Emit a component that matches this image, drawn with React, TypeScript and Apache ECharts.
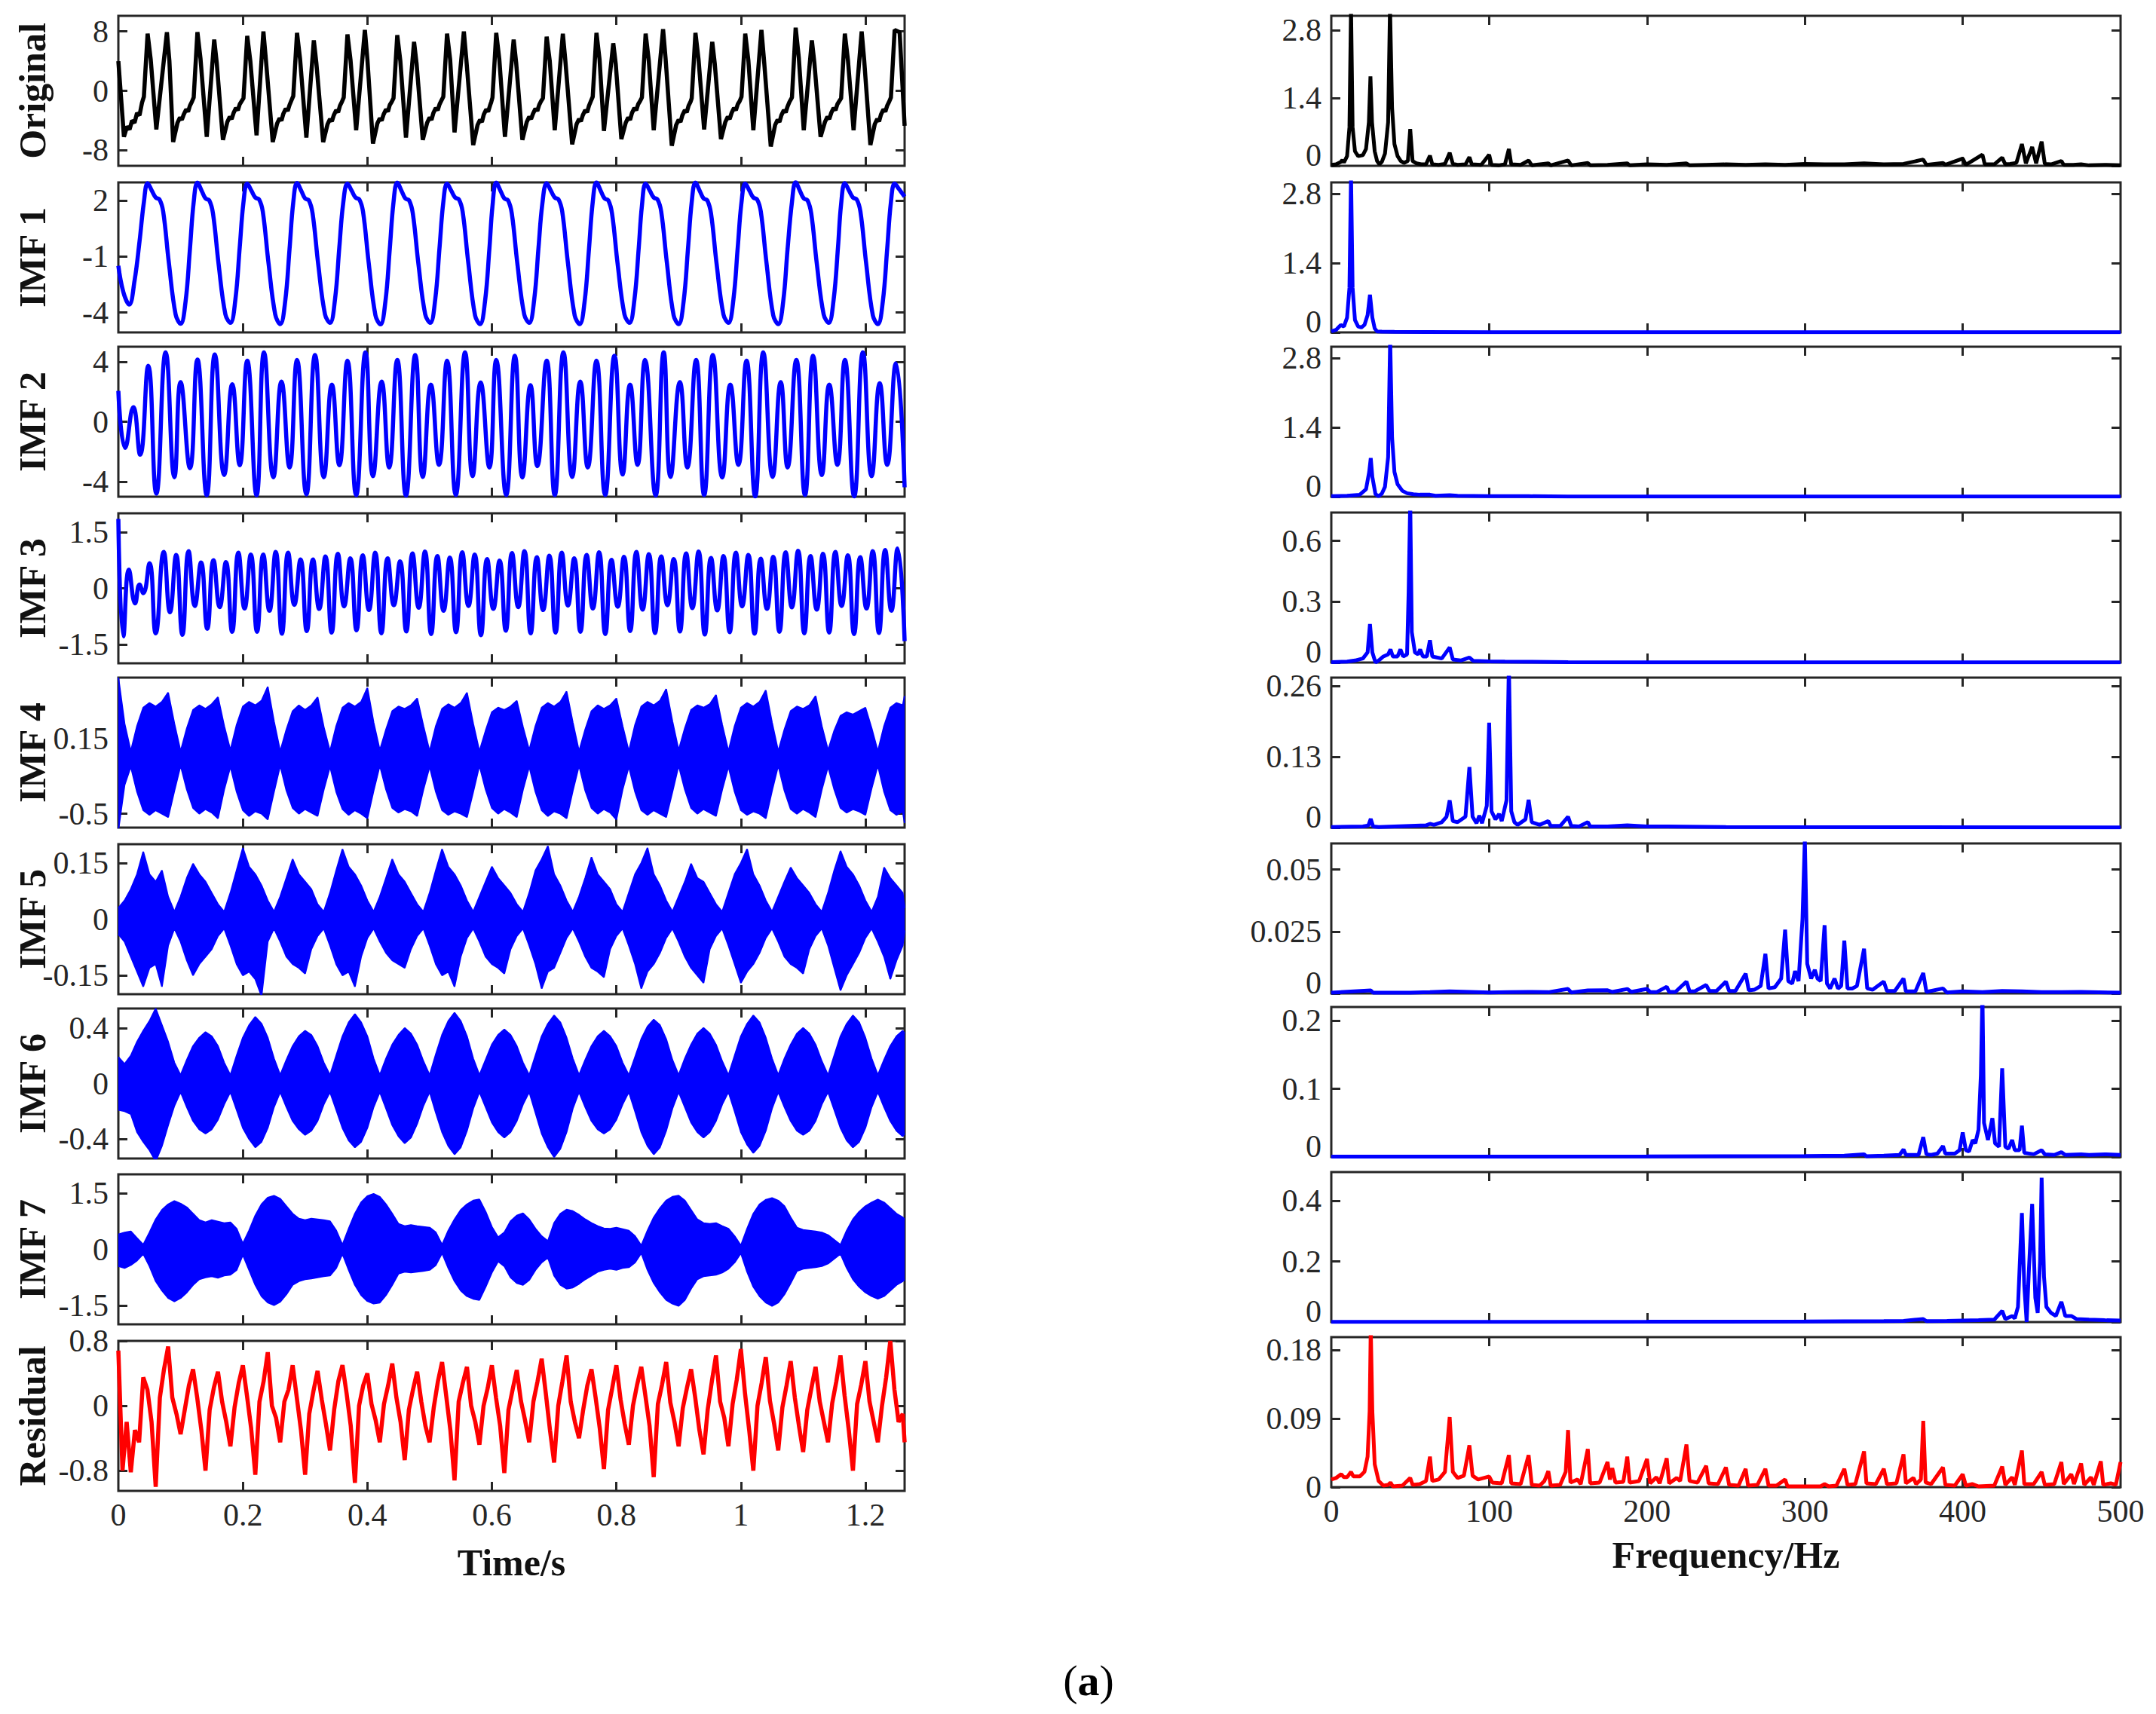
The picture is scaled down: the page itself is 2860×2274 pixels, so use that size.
import React, { useEffect, useRef } from "react";
import * as echarts from "echarts";

// ---------------- axis extents & tick values ----------------
const TIME_MAX = 1.263;
const FREQ_MAX = 500;
const rowNames = ["Original", "IMF 1", "IMF 2", "IMF 3", "IMF 4", "IMF 5", "IMF 6", "IMF 7", "Residual"];
const rowColors = ["#000000", "#0000ff", "#0000ff", "#0000ff", "#0000ff", "#0000ff", "#0000ff", "#0000ff", "#ff0000"];
const timeTicks = [0.2, 0.4, 0.6, 0.8, 1, 1.2];
const timeLabels = [0, 0.2, 0.4, 0.6, 0.8, 1, 1.2];
const freqTicks = [100, 200, 300, 400];
const freqLabels = [0, 100, 200, 300, 400, 500];
const leftRanges = [[-10.1, 10.1], [-5.06, 2.96], [-5, 5], [-2, 2], [-0.62, 0.68], [-0.2, 0.2], [-0.54, 0.54], [-2, 2], [-1.05, 0.8]];
const leftTicks = [[-8, 0, 8], [-4, -1, 2], [-4, 0, 4], [-1.5, 0, 1.5], [-0.5, 0.15], [-0.15, 0, 0.15], [-0.4, 0, 0.4], [-1.5, 0, 1.5], [-0.8, 0, 0.8]];
const rightMax = [3.1, 3.03, 3.03, 0.74, 0.275, 0.0605, 0.22, 0.495, 0.197];
const rightTicks = [[0, 1.4, 2.8], [0, 1.4, 2.8], [0, 1.4, 2.8], [0, 0.3, 0.6], [0, 0.13, 0.26], [0, 0.025, 0.05], [0, 0.1, 0.2], [0, 0.2, 0.4], [0, 0.09, 0.18]];

// ---------------- time-domain signals ----------------
const original = [
  [0, 4.0], [0.009, -6.2], [0.014, -4.8], [0.018, -5.2], [0.022, -4.0], [0.026, -4.3], [0.03, -3.0], [0.034, -3.3], [0.038, -1.6],
  [0.041, -0.8], [0.047, 7.7], [0.052, 4.2], [0.061, -5.2], [0.078, 7.9], [0.082, 4.0], [0.088, -6.9],
  [0.095, -4.3], [0.099, -3.6], [0.102, -3.9], [0.105, -3.2], [0.109, -2.5], [0.112, -2.8], [0.115, -2.0], [0.118, -1.5],
  [0.121, -0.9], [0.127, 7.9], [0.132, 4.3], [0.142, -6.2], [0.154, 6.9], [0.158, 3.8], [0.168, -6.6],
  [0.175, -4.2], [0.179, -3.5], [0.182, -3.8], [0.185, -3.0], [0.189, -2.3], [0.192, -2.6], [0.195, -1.8], [0.198, -1.4],
  [0.201, -1.0], [0.207, 7.4], [0.212, 4.0], [0.222, -6.0], [0.233, 8.0], [0.237, 4.2], [0.248, -6.9],
  [0.255, -4.4], [0.259, -3.7], [0.262, -4.0], [0.265, -3.1], [0.269, -2.4], [0.272, -2.7], [0.275, -1.9], [0.278, -1.3],
  [0.281, -0.7], [0.287, 7.8], [0.292, 4.2], [0.302, -6.3], [0.314, 6.8], [0.318, 3.8], [0.329, -6.9],
  [0.336, -4.5], [0.34, -3.8], [0.343, -4.1], [0.346, -3.3], [0.35, -2.6], [0.353, -2.9], [0.356, -2.0], [0.359, -1.5],
  [0.362, -0.9], [0.368, 7.6], [0.373, 4.1], [0.382, -5.3], [0.396, 8.2], [0.4, 4.3], [0.409, -7.1],
  [0.416, -4.4], [0.42, -3.7], [0.423, -4.0], [0.426, -3.2], [0.43, -2.5], [0.433, -2.8], [0.436, -1.9], [0.439, -1.5],
  [0.442, -1.0], [0.448, 7.5], [0.453, 4.0], [0.462, -6.3], [0.475, 6.6], [0.479, 3.7], [0.489, -6.6],
  [0.496, -4.3], [0.5, -3.6], [0.503, -3.9], [0.506, -3.0], [0.51, -2.3], [0.513, -2.6], [0.516, -1.8], [0.519, -1.3],
  [0.522, -0.8], [0.528, 7.7], [0.533, 4.2], [0.54, -5.6], [0.555, 8.0], [0.559, 4.2], [0.57, -7.3],
  [0.577, -4.6], [0.581, -3.9], [0.584, -4.2], [0.587, -3.2], [0.591, -2.5], [0.594, -2.8], [0.597, -2.0], [0.599, -1.5],
  [0.601, -0.9], [0.607, 7.8], [0.612, 4.2], [0.621, -6.2], [0.635, 6.9], [0.639, 3.8], [0.649, -6.6],
  [0.656, -4.2], [0.66, -3.5], [0.663, -3.8], [0.666, -3.1], [0.67, -2.4], [0.673, -2.7], [0.676, -1.9], [0.679, -1.4],
  [0.682, -1.0], [0.688, 7.3], [0.693, 4.0], [0.701, -5.3], [0.714, 7.7], [0.718, 4.1], [0.729, -7.2],
  [0.736, -4.5], [0.74, -3.8], [0.743, -4.1], [0.746, -3.3], [0.75, -2.6], [0.753, -2.9], [0.756, -2.0], [0.759, -1.4],
  [0.762, -0.8], [0.768, 7.8], [0.773, 4.2], [0.78, -5.4], [0.795, 6.4], [0.799, 3.6], [0.808, -6.5],
  [0.815, -4.3], [0.819, -3.6], [0.822, -3.9], [0.825, -3.0], [0.829, -2.3], [0.832, -2.6], [0.835, -1.8], [0.838, -1.4],
  [0.841, -0.9], [0.847, 7.7], [0.852, 4.1], [0.86, -5.3], [0.875, 8.3], [0.879, 4.4], [0.889, -7.4],
  [0.896, -4.6], [0.9, -3.9], [0.903, -4.2], [0.906, -3.3], [0.91, -2.6], [0.913, -2.9], [0.916, -2.0], [0.919, -1.5],
  [0.921, -1.0], [0.927, 7.8], [0.932, 4.2], [0.941, -5.2], [0.954, 6.6], [0.958, 3.7], [0.968, -6.5],
  [0.975, -4.2], [0.979, -3.5], [0.982, -3.8], [0.985, -3.0], [0.989, -2.3], [0.992, -2.6], [0.995, -1.8], [0.998, -1.4],
  [1.001, -0.8], [1.007, 7.7], [1.012, 4.1], [1.02, -5.3], [1.033, 8.2], [1.037, 4.3], [1.048, -7.5],
  [1.055, -4.6], [1.059, -3.9], [1.062, -4.2], [1.065, -3.3], [1.069, -2.6], [1.072, -2.9], [1.075, -2.1], [1.078, -1.5],
  [1.082, -0.9], [1.088, 8.5], [1.093, 4.5], [1.101, -5.3], [1.114, 6.8], [1.118, 3.8], [1.128, -6.2],
  [1.135, -4.2], [1.139, -3.5], [1.142, -3.8], [1.145, -3.0], [1.149, -2.3], [1.152, -2.6], [1.155, -1.8], [1.158, -1.4],
  [1.161, -1.0], [1.167, 7.7], [1.172, 4.1], [1.181, -5.3], [1.194, 8.0], [1.198, 4.2], [1.208, -7.3],
  [1.215, -4.5], [1.219, -3.8], [1.222, -4.1], [1.225, -3.2], [1.229, -2.5], [1.232, -2.8], [1.235, -2.0], [1.238, -1.5],
  [1.241, -0.9], [1.247, 8.2], [1.255, 7.9], [1.263, -4.7],
];

const imf1 = [
  [0, -1.5], [0.008, -2.9], [0.0175, -3.57], [0.026, -2.3], [0.034, -0.2], [0.041, 1.9],
  [0.047, 2.92], [0.054, 2.5], [0.06, 2.15], [0.066, 2.05], [0.072, 1.4], [0.081, -1.3], [0.092, -4.1], [0.1, -4.6], [0.108, -3.4], [0.115, -0.6], [0.121, 1.9],
  [0.127, 2.95], [0.134, 2.5], [0.14, 2.1], [0.146, 2.0], [0.152, 1.3], [0.161, -1.4], [0.172, -4.1], [0.18, -4.55], [0.188, -3.3], [0.195, -0.5], [0.201, 1.9],
  [0.207, 2.9], [0.214, 2.5], [0.22, 2.15], [0.226, 2.05], [0.232, 1.4], [0.241, -1.3], [0.252, -4.1], [0.26, -4.62], [0.268, -3.4], [0.275, -0.6], [0.281, 1.9],
  [0.287, 2.93], [0.294, 2.5], [0.3, 2.1], [0.306, 2.0], [0.312, 1.3], [0.321, -1.4], [0.332, -4.1], [0.34, -4.55], [0.348, -3.3], [0.355, -0.5], [0.361, 1.8],
  [0.368, 2.9], [0.375, 2.5], [0.381, 2.15], [0.387, 2.05], [0.393, 1.4], [0.402, -1.3], [0.413, -4.15], [0.421, -4.63], [0.429, -3.4], [0.436, -0.6], [0.442, 1.9],
  [0.448, 2.95], [0.455, 2.5], [0.461, 2.1], [0.467, 2.0], [0.473, 1.3], [0.482, -1.4], [0.493, -4.1], [0.501, -4.55], [0.509, -3.3], [0.516, -0.5], [0.522, 1.9],
  [0.528, 2.9], [0.535, 2.5], [0.541, 2.15], [0.547, 2.05], [0.553, 1.4], [0.562, -1.3], [0.573, -4.15], [0.581, -4.62], [0.589, -3.4], [0.596, -0.6], [0.601, 1.7],
  [0.607, 2.95], [0.614, 2.5], [0.62, 2.1], [0.626, 2.0], [0.632, 1.3], [0.641, -1.4], [0.652, -4.1], [0.66, -4.55], [0.668, -3.3], [0.675, -0.5], [0.681, 1.8],
  [0.688, 2.92], [0.695, 2.5], [0.701, 2.15], [0.707, 2.05], [0.713, 1.4], [0.722, -1.3], [0.733, -4.15], [0.741, -4.62], [0.749, -3.4], [0.756, -0.6], [0.762, 1.9],
  [0.768, 2.96], [0.775, 2.5], [0.781, 2.1], [0.787, 2.0], [0.793, 1.3], [0.802, -1.4], [0.813, -4.1], [0.821, -4.55], [0.829, -3.3], [0.836, -0.5], [0.841, 1.7],
  [0.847, 2.9], [0.854, 2.5], [0.86, 2.15], [0.866, 2.05], [0.872, 1.4], [0.881, -1.3], [0.892, -4.15], [0.9, -4.62], [0.908, -3.4], [0.915, -0.6], [0.921, 1.9],
  [0.927, 2.95], [0.934, 2.5], [0.94, 2.1], [0.946, 2.0], [0.952, 1.3], [0.961, -1.4], [0.972, -4.1], [0.98, -4.55], [0.988, -3.3], [0.995, -0.5], [1.001, 1.9],
  [1.007, 2.9], [1.014, 2.5], [1.02, 2.15], [1.026, 2.05], [1.032, 1.4], [1.041, -1.3], [1.052, -4.15], [1.06, -4.62], [1.068, -3.4], [1.075, -0.6], [1.082, 1.9],
  [1.088, 2.97], [1.095, 2.5], [1.101, 2.1], [1.107, 2.0], [1.113, 1.3], [1.122, -1.4], [1.133, -4.1], [1.141, -4.55], [1.149, -3.3], [1.156, -0.5], [1.161, 1.8],
  [1.167, 2.92], [1.174, 2.5], [1.18, 2.15], [1.186, 2.05], [1.192, 1.4], [1.201, -1.3], [1.212, -4.15], [1.22, -4.62], [1.228, -3.4], [1.235, -0.6], [1.241, 1.9],
  [1.247, 2.9], [1.254, 2.6], [1.263, 2.2],
];

const imf2 = [
  [0, 2.06], [0.011, -1.74], [0.024, 0.97], [0.035, -2.2], [0.048, 3.73], [0.061, -4.8], [0.076, 4.62], [0.09, -3.7], [0.1, 2.64], [0.115, -3.1],
  [0.127, 4.15], [0.142, -4.9], [0.155, 4.49], [0.17, -3.55], [0.183, 2.5], [0.195, -2.9], [0.207, 4.07], [0.222, -4.9], [0.234, 4.62], [0.249, -3.7],
  [0.262, 2.68], [0.275, -3.05], [0.287, 4.12], [0.302, -4.85], [0.316, 4.45], [0.33, -3.7], [0.343, 2.48], [0.355, -2.9], [0.368, 4.07], [0.382, -4.9],
  [0.397, 4.62], [0.409, -3.63], [0.423, 2.68], [0.435, -3.05], [0.448, 4.12], [0.462, -4.92], [0.477, 4.45], [0.489, -3.68], [0.502, 2.48], [0.515, -2.88],
  [0.528, 4.07], [0.542, -4.89], [0.557, 4.62], [0.569, -3.63], [0.582, 2.61], [0.596, -3.05], [0.607, 4.12], [0.623, -4.89], [0.637, 4.4], [0.649, -3.72],
  [0.662, 2.44], [0.673, -2.96], [0.688, 4.07], [0.701, -4.89], [0.715, 4.62], [0.729, -3.68], [0.742, 2.68], [0.754, -3.05], [0.768, 4.07], [0.782, -4.89],
  [0.797, 4.4], [0.81, -3.52], [0.822, 2.48], [0.834, -2.88], [0.846, 4.12], [0.863, -4.92], [0.876, 4.62], [0.887, -3.68], [0.902, 2.64], [0.914, -3.05],
  [0.928, 4.12], [0.941, -4.89], [0.955, 4.45], [0.97, -3.72], [0.983, 2.48], [0.996, -2.88], [1.009, 4.07], [1.023, -4.97], [1.036, 4.62], [1.051, -3.68],
  [1.064, 2.64], [1.075, -3.05], [1.089, 4.12], [1.103, -4.89], [1.116, 4.4], [1.13, -3.55], [1.142, 2.48], [1.155, -2.88], [1.167, 4.12], [1.182, -4.97],
  [1.196, 4.62], [1.21, -3.63], [1.223, 2.56], [1.235, -2.88], [1.249, 3.9], [1.263, -4.37],
];

const imf3Start = [[0, 1.85], [0.008, -1.28], [0.017, 0.5], [0.027, -0.4], [0.034, 0.1], [0.04, -0.13], [0.05, 0.67], [0.06, -1.2]];
const IMF3_T0 = 0.0729;
const IMF3_DT = 0.00999;
const imf3Extrema = [
  0.97, -0.64, 0.89, -1.24, 0.99, -0.47, 0.69, -1.08, 0.75, -0.5, 0.7, -1.16, 0.95, -0.54, 0.9, -1.16,
  0.9, -0.6, 0.97, -1.21, 0.95, -0.44, 0.77, -1.14, 0.77, -0.55, 0.85, -1.18, 0.92, -0.48, 0.8, -1.12,
  0.88, -0.58, 0.95, -1.2, 0.8, -0.45, 0.72, -1.15, 0.93, -0.52, 0.98, -1.22, 0.86, -0.6, 0.82, -1.17,
  0.96, -0.47, 0.9, -1.25, 0.78, -0.55, 0.74, -1.13, 0.94, -0.5, 0.99, -1.2, 0.83, -0.58, 0.87, -1.18,
  0.95, -0.46, 0.8, -1.16, 0.89, -0.54, 0.96, -1.22, 0.76, -0.49, 0.84, -1.14, 0.97, -0.57, 0.91, -1.19,
  0.85, -0.45, 0.78, -1.15, 0.93, -0.53, 0.98, -1.23, 0.81, -0.59, 0.86, -1.17, 0.95, -0.48, 0.89, -1.21,
  0.79, -0.55, 0.84, -1.16, 0.96, -0.51, 1.0, -1.2, 0.86, -0.57, 0.92, -1.18, 0.97, -0.47, 0.88, -1.22,
  0.83, -0.54, 0.99, -1.19, 1.02, -0.6, 1.06,
];
const imf3End = [[1.263, -1.41]];

// envelopes of the dense IMFs, one value every 0.01 s (last value at the record end)
const ENV_DT = 0.01;
const imf4Upper = [
  0.68, 0.28,
  0.04, 0.26, 0.42, 0.46, 0.43, 0.47, 0.55, 0.28, 0.04, 0.24, 0.4, 0.44, 0.41, 0.45, 0.51, 0.26,
  0.05, 0.27, 0.43, 0.47, 0.44, 0.48, 0.6, 0.3, 0.04, 0.23, 0.39, 0.44, 0.4, 0.44, 0.51, 0.25,
  0.04, 0.26, 0.42, 0.46, 0.43, 0.47, 0.59, 0.29, 0.05, 0.23, 0.39, 0.43, 0.41, 0.44, 0.5, 0.26,
  0.04, 0.26, 0.41, 0.45, 0.42, 0.46, 0.55, 0.28, 0.04, 0.22, 0.38, 0.42, 0.4, 0.43, 0.48, 0.25,
  0.05, 0.26, 0.42, 0.46, 0.43, 0.47, 0.56, 0.29, 0.04, 0.23, 0.39, 0.44, 0.41, 0.44, 0.5, 0.26,
  0.04, 0.27, 0.43, 0.47, 0.44, 0.48, 0.58, 0.3, 0.05, 0.24, 0.4, 0.44, 0.42, 0.45, 0.53, 0.27,
  0.04, 0.26, 0.42, 0.46, 0.43, 0.47, 0.57, 0.29, 0.04, 0.23, 0.39, 0.43, 0.41, 0.44, 0.52, 0.26,
  0.05, 0.22, 0.35, 0.38, 0.36, 0.39, 0.42, 0.24, 0.04, 0.26, 0.42, 0.46, 0.44, 0.52,
];
const imf4Lower = [
  -0.64, -0.25,
  -0.09, -0.31, -0.47, -0.51, -0.47, -0.5, -0.53, -0.3, -0.08, -0.29, -0.45, -0.5, -0.46, -0.49, -0.54, -0.29,
  -0.09, -0.31, -0.47, -0.52, -0.48, -0.5, -0.55, -0.31, -0.08, -0.3, -0.45, -0.5, -0.46, -0.49, -0.52, -0.29,
  -0.09, -0.31, -0.46, -0.51, -0.47, -0.5, -0.54, -0.3, -0.08, -0.29, -0.45, -0.49, -0.46, -0.48, -0.52, -0.29,
  -0.09, -0.31, -0.47, -0.51, -0.48, -0.5, -0.53, -0.31, -0.08, -0.29, -0.45, -0.5, -0.46, -0.49, -0.53, -0.29,
  -0.09, -0.31, -0.47, -0.52, -0.48, -0.5, -0.54, -0.3, -0.08, -0.3, -0.45, -0.5, -0.46, -0.49, -0.55, -0.29,
  -0.09, -0.31, -0.47, -0.51, -0.47, -0.5, -0.53, -0.31, -0.08, -0.29, -0.45, -0.5, -0.46, -0.49, -0.52, -0.29,
  -0.09, -0.31, -0.47, -0.51, -0.48, -0.5, -0.54, -0.3, -0.08, -0.3, -0.46, -0.5, -0.46, -0.49, -0.53, -0.29,
  -0.09, -0.29, -0.45, -0.49, -0.46, -0.48, -0.51, -0.28, -0.08, -0.31, -0.47, -0.51, -0.48, -0.58,
];
const imf5Upper = [
  0.03, 0.05, 0.08, 0.12, 0.18, 0.12, 0.1, 0.13, 0.06,
  0.02, 0.06, 0.11, 0.148, 0.12, 0.1, 0.07, 0.04, 0.02, 0.07, 0.13, 0.19, 0.14, 0.12, 0.09, 0.05,
  0.02, 0.06, 0.11, 0.16, 0.12, 0.1, 0.08, 0.04, 0.02, 0.07, 0.13, 0.187, 0.14, 0.12, 0.09, 0.05,
  0.02, 0.06, 0.11, 0.16, 0.12, 0.1, 0.07, 0.04, 0.02, 0.07, 0.13, 0.187, 0.14, 0.12, 0.09, 0.05,
  0.02, 0.06, 0.1, 0.14, 0.11, 0.09, 0.07, 0.04, 0.02, 0.07, 0.13, 0.16, 0.195, 0.12, 0.09, 0.05,
  0.02, 0.06, 0.11, 0.165, 0.12, 0.1, 0.08, 0.04, 0.02, 0.07, 0.12, 0.15, 0.19, 0.12, 0.09, 0.05,
  0.02, 0.06, 0.1, 0.148, 0.11, 0.1, 0.07, 0.04, 0.02, 0.07, 0.12, 0.15, 0.187, 0.12, 0.09, 0.05,
  0.02, 0.06, 0.1, 0.138, 0.11, 0.09, 0.07, 0.04, 0.02, 0.07, 0.13, 0.182, 0.14, 0.12, 0.09, 0.05,
  0.02, 0.06, 0.138, 0.11, 0.09, 0.07, 0.03,
];
const imf5Lower = [
  -0.04, -0.06, -0.1, -0.14, -0.18, -0.13, -0.12, -0.18, -0.07,
  -0.025, -0.06, -0.11, -0.15, -0.12, -0.1, -0.08, -0.045, -0.025, -0.07, -0.12, -0.15, -0.14, -0.16, -0.205, -0.06,
  -0.025, -0.06, -0.1, -0.12, -0.13, -0.145, -0.08, -0.045, -0.025, -0.07, -0.12, -0.15, -0.14, -0.18, -0.1, -0.05,
  -0.025, -0.06, -0.09, -0.11, -0.12, -0.13, -0.08, -0.045, -0.025, -0.07, -0.12, -0.15, -0.14, -0.18, -0.1, -0.05,
  -0.025, -0.06, -0.1, -0.12, -0.13, -0.145, -0.08, -0.045, -0.025, -0.07, -0.12, -0.185, -0.14, -0.13, -0.09, -0.05,
  -0.025, -0.06, -0.1, -0.13, -0.14, -0.155, -0.08, -0.045, -0.025, -0.07, -0.12, -0.185, -0.14, -0.12, -0.09, -0.05,
  -0.025, -0.06, -0.1, -0.13, -0.15, -0.17, -0.08, -0.045, -0.025, -0.07, -0.12, -0.17, -0.14, -0.12, -0.09, -0.05,
  -0.025, -0.06, -0.1, -0.12, -0.13, -0.145, -0.08, -0.045, -0.025, -0.07, -0.13, -0.19, -0.15, -0.12, -0.09, -0.05,
  -0.025, -0.06, -0.1, -0.16, -0.11, -0.07, -0.03,
];
const imf6Upper = [
  0.19, 0.14, 0.2, 0.3, 0.38, 0.45, 0.54, 0.42, 0.3, 0.15,
  0.06, 0.17, 0.27, 0.33, 0.37, 0.34, 0.27, 0.15, 0.06, 0.2, 0.33, 0.42, 0.48, 0.43, 0.33, 0.18,
  0.06, 0.17, 0.27, 0.34, 0.38, 0.35, 0.27, 0.15, 0.06, 0.2, 0.34, 0.44, 0.5, 0.44, 0.34, 0.18,
  0.06, 0.18, 0.28, 0.35, 0.4, 0.36, 0.28, 0.16, 0.06, 0.21, 0.35, 0.45, 0.51, 0.45, 0.34, 0.18,
  0.06, 0.17, 0.28, 0.35, 0.39, 0.35, 0.27, 0.15, 0.06, 0.2, 0.34, 0.43, 0.49, 0.44, 0.33, 0.18,
  0.06, 0.17, 0.27, 0.34, 0.38, 0.34, 0.27, 0.15, 0.06, 0.19, 0.32, 0.41, 0.46, 0.42, 0.32, 0.17,
  0.06, 0.18, 0.28, 0.36, 0.4, 0.36, 0.28, 0.16, 0.06, 0.2, 0.34, 0.43, 0.49, 0.44, 0.33, 0.18,
  0.06, 0.18, 0.28, 0.36, 0.4, 0.36, 0.28, 0.16, 0.06, 0.2, 0.34, 0.43, 0.49, 0.44, 0.33, 0.18,
  0.06, 0.17, 0.27, 0.34, 0.38, 0.36,
];
const imf6Lower = [
  -0.19, -0.2, -0.22, -0.35, -0.42, -0.48, -0.56, -0.45, -0.3, -0.16,
  -0.06, -0.17, -0.27, -0.33, -0.36, -0.33, -0.26, -0.15, -0.06, -0.19, -0.32, -0.4, -0.46, -0.42, -0.32, -0.17,
  -0.06, -0.17, -0.27, -0.33, -0.37, -0.34, -0.27, -0.15, -0.06, -0.19, -0.32, -0.41, -0.46, -0.42, -0.32, -0.17,
  -0.06, -0.18, -0.3, -0.38, -0.43, -0.39, -0.29, -0.16, -0.06, -0.21, -0.35, -0.45, -0.51, -0.46, -0.34, -0.18,
  -0.06, -0.17, -0.28, -0.35, -0.39, -0.35, -0.27, -0.15, -0.06, -0.21, -0.36, -0.46, -0.53, -0.47, -0.35, -0.18,
  -0.06, -0.17, -0.27, -0.33, -0.36, -0.33, -0.26, -0.15, -0.06, -0.2, -0.35, -0.45, -0.51, -0.46, -0.34, -0.18,
  -0.06, -0.17, -0.28, -0.35, -0.39, -0.35, -0.27, -0.15, -0.06, -0.2, -0.35, -0.44, -0.5, -0.45, -0.34, -0.18,
  -0.06, -0.17, -0.27, -0.34, -0.37, -0.34, -0.27, -0.15, -0.06, -0.19, -0.32, -0.41, -0.46, -0.42, -0.32, -0.17,
  -0.06, -0.17, -0.27, -0.34, -0.38, -0.36,
];
const imf7Upper = [
  0.4, 0.45, 0.48, 0.3, 0.12,
  0.45, 0.8, 1.05, 1.2, 1.29, 1.22, 1.12, 0.95, 0.78, 0.72, 0.78, 0.74, 0.7, 0.72, 0.55, 0.15,
  0.5, 0.9, 1.2, 1.38, 1.43, 1.35, 1.15, 0.95, 0.82, 0.78, 0.82, 0.8, 0.78, 0.75, 0.5, 0.12,
  0.55, 0.95, 1.25, 1.42, 1.48, 1.4, 1.2, 0.95, 0.68, 0.62, 0.65, 0.62, 0.6, 0.58, 0.45, 0.12,
  0.5, 0.8, 1.05, 1.2, 1.3, 1.33, 1.0, 0.6, 0.32,
  0.45, 0.75, 0.9, 0.96, 0.8, 0.55, 0.35, 0.22,
  0.7, 0.95, 1.06, 1.02, 0.92, 0.8, 0.7, 0.62, 0.56, 0.55, 0.58, 0.54, 0.5, 0.35, 0.1,
  0.5, 0.85, 1.1, 1.3, 1.4, 1.43, 1.3, 1.05, 0.8, 0.7, 0.68, 0.7, 0.62, 0.55, 0.35, 0.1,
  0.55, 0.95, 1.2, 1.32, 1.37, 1.3, 1.15, 0.85, 0.58, 0.52, 0.5, 0.48, 0.45, 0.38, 0.25, 0.12,
  0.5, 0.8, 1.0, 1.15, 1.25, 1.33, 1.25, 1.1, 0.95, 0.85, 0.8,
];
const imf7Lower = [
  -0.45, -0.5, -0.42, -0.3, -0.12,
  -0.45, -0.85, -1.1, -1.3, -1.39, -1.3, -1.15, -0.95, -0.8, -0.75, -0.72, -0.76, -0.7, -0.68, -0.55, -0.15,
  -0.55, -0.95, -1.25, -1.42, -1.49, -1.4, -1.2, -0.95, -0.85, -0.8, -0.78, -0.75, -0.72, -0.7, -0.5, -0.12,
  -0.55, -0.95, -1.22, -1.38, -1.45, -1.42, -1.22, -0.95, -0.65, -0.6, -0.62, -0.6, -0.58, -0.55, -0.42, -0.1,
  -0.5, -0.85, -1.1, -1.25, -1.32, -1.35, -1.0, -0.62, -0.32,
  -0.45, -0.75, -0.9, -0.95, -0.82, -0.55, -0.35, -0.22,
  -0.7, -0.95, -1.05, -1.02, -0.92, -0.8, -0.7, -0.6, -0.55, -0.52, -0.55, -0.5, -0.48, -0.35, -0.1,
  -0.55, -0.9, -1.15, -1.35, -1.45, -1.51, -1.35, -1.05, -0.8, -0.72, -0.7, -0.68, -0.62, -0.52, -0.35, -0.1,
  -0.6, -1.0, -1.25, -1.42, -1.51, -1.42, -1.2, -0.9, -0.58, -0.52, -0.5, -0.48, -0.45, -0.38, -0.25, -0.12,
  -0.5, -0.8, -1.0, -1.15, -1.25, -1.32, -1.25, -1.1, -0.95, -0.85, -0.8,
];

// residual, one value every 1/150 s
const RES_DT = 1 / 150;
const residualValues = [
  0.68, -0.8, -0.2, -0.82, -0.3, -0.45, 0.35, 0.2, -0.2, -1.0, 0.1, 0.45, 0.73, 0.1, -0.1, -0.35, -0.05, 0.25, 0.45, 0.1, -0.3,
  -0.8, -0.05, 0.22, 0.42, 0.05, -0.2, -0.5, -0.02, 0.28, 0.5, 0.12, -0.28,
  -0.85, 0.05, 0.3, 0.66, 0.0, -0.15, -0.45, 0.05, 0.2, 0.5, 0.1, -0.3,
  -0.85, -0.1, 0.18, 0.43, 0.08, -0.22, -0.55, -0.05, 0.3, 0.5, 0.15, -0.25,
  -0.95, 0.0, 0.25, 0.4, 0.02, -0.18, -0.45, 0.02, 0.25, 0.52, 0.1, -0.2,
  -0.67, -0.05, 0.2, 0.42, 0.05, -0.25, -0.45, -0.02, 0.3, 0.54, 0.12, -0.3,
  -0.92, 0.05, 0.28, 0.48, 0.0, -0.2, -0.48, 0.0, 0.22, 0.5, 0.1, -0.25,
  -0.83, -0.05, 0.2, 0.44, 0.06, -0.18, -0.45, 0.05, 0.3, 0.58, 0.15, -0.3,
  -0.7, 0.0, 0.3, 0.62, 0.05, -0.2, -0.4, -0.05, 0.25, 0.45, 0.1, -0.28,
  -0.78, -0.05, 0.22, 0.5, 0.08, -0.22, -0.48, 0.0, 0.26, 0.48, 0.12, -0.25,
  -0.88, 0.02, 0.26, 0.54, 0.04, -0.2, -0.5, -0.03, 0.22, 0.45, 0.1, -0.3,
  -0.6, -0.05, 0.3, 0.62, 0.05, -0.15, -0.5, 0.02, 0.32, 0.7, 0.15, -0.3,
  -0.8, 0.0, 0.28, 0.6, 0.06, -0.22, -0.55, -0.02, 0.25, 0.55, 0.1, -0.25,
  -0.57, -0.05, 0.22, 0.48, 0.05, -0.2, -0.45, 0.03, 0.3, 0.62, 0.12, -0.3,
  -0.8, 0.02, 0.26, 0.55, 0.05, -0.2, -0.45, 0.0, 0.35, 0.8, 0.2, -0.2,
  -0.1,
];
const residualEnd = [[1.263, -0.45]];

// ---------------- spectra [frequency Hz, amplitude] ----------------
const specOriginal = [
  [0, 0.02], [3, 0.03], [6, 0.08], [7, 0.12], [8, 0.07], [10, 0.2], [11.5, 0.8], [12.5, 3.3], [13.5, 0.8], [15, 0.3], [17, 0.2], [20, 0.22],
  [22, 0.35], [23.8, 0.9], [24.8, 1.85], [25.8, 0.9], [27.5, 0.3], [29, 0.1], [30.5, 0.03], [32, 0.08], [34, 0.25], [36, 0.9], [37.2, 3.3],
  [38.5, 1.2], [40, 0.45], [42, 0.2], [44, 0.1], [46, 0.06], [48.5, 0.1], [50, 0.76], [51.5, 0.1], [54, 0.05], [57, 0.03], [60, 0.03],
  [62.5, 0.21], [64, 0.03], [68, 0.02], [72, 0.04], [75, 0.27], [77, 0.04], [80, 0.02], [85, 0.03], [87.5, 0.18], [89, 0.03], [95, 0.02],
  [100, 0.23], [101.5, 0.02], [106, 0.01], [110, 0.03], [112.5, 0.35], [114, 0.03], [120, 0.02], [125, 0.11], [127, 0.01], [137.5, 0.05],
  [139, 0.01], [150, 0.11], [152, 0.01], [162.5, 0.06], [164, 0.01], [175, 0.02], [187.5, 0.05], [189, 0.01], [200, 0.03], [212.5, 0.02],
  [225, 0.05], [227, 0.01], [237.5, 0.02], [250, 0.03], [262.5, 0.02], [275, 0.03], [287.5, 0.02], [300, 0.04], [312.5, 0.03], [325, 0.03],
  [337.5, 0.05], [350, 0.03], [362.5, 0.04], [375, 0.13], [377, 0.02], [387.5, 0.06], [389, 0.02], [400, 0.15], [402, 0.02], [412.5, 0.23],
  [414, 0.03], [420, 0.03], [425, 0.17], [427, 0.03], [430, 0.04], [434, 0.06], [437.5, 0.45], [440, 0.05], [444, 0.39], [446.5, 0.05],
  [450, 0.5], [452, 0.04], [456, 0.03], [462.5, 0.1], [464, 0.02], [470, 0.02], [475, 0.03], [480, 0.01], [490, 0.02], [500, 0.01],
];
const specImf1 = [
  [0, 0.02], [3, 0.05], [6, 0.15], [8, 0.12], [10, 0.3], [11.5, 0.9], [12.5, 3.2], [13.5, 0.9], [15, 0.25], [17, 0.12], [19, 0.1], [21, 0.15],
  [23, 0.35], [24.5, 0.76], [26, 0.3], [27.5, 0.08], [29, 0.02], [32, 0.015], [40, 0.01], [60, 0.008], [100, 0.004], [200, 0.002],
  [300, 0.002], [400, 0.002], [500, 0.002],
];
const specImf2 = [
  [0, 0.01], [10, 0.02], [18, 0.04], [22, 0.15], [24, 0.5], [25, 0.78], [26, 0.4], [28, 0.05], [30, 0.01], [32, 0.06], [34, 0.2], [36, 0.8],
  [37.3, 3.2], [38.5, 1.2], [40, 0.5], [42, 0.25], [45, 0.12], [48, 0.07], [52, 0.05], [56, 0.04], [62.5, 0.04], [66, 0.02], [75, 0.03],
  [80, 0.02], [90, 0.015], [100, 0.01], [125, 0.01], [150, 0.005], [200, 0.003], [300, 0.002], [500, 0.002],
];
const specImf3 = [
  [0, 0.002], [10, 0.005], [15, 0.01], [20, 0.02], [23, 0.05], [24.5, 0.19], [26, 0.05], [28, 0.0], [30, 0.01], [33, 0.03], [36, 0.04],
  [37.5, 0.065], [39, 0.03], [42, 0.03], [43.8, 0.065], [45.5, 0.03], [48, 0.04], [49, 0.35], [50, 0.8], [51, 0.15], [53, 0.05], [55, 0.04],
  [56.3, 0.065], [58, 0.03], [60.5, 0.03], [62.5, 0.11], [64, 0.03], [70, 0.02], [75, 0.075], [77, 0.015], [82, 0.01], [87.5, 0.025],
  [90, 0.008], [100, 0.006], [110, 0.005], [125, 0.004], [150, 0.002], [200, 0.001], [300, 0.001], [500, 0.001],
];
const specImf4 = [
  [0, 0.001], [20, 0.002], [23.5, 0.004], [25, 0.016], [26.5, 0.002], [30, 0.001], [40, 0.002], [50, 0.003], [60, 0.004], [62.5, 0.007],
  [65, 0.005], [70, 0.01], [73, 0.02], [75, 0.05], [77, 0.012], [80, 0.01], [85, 0.02], [87.5, 0.111], [89.5, 0.02], [92, 0.008],
  [93.8, 0.022], [95.5, 0.008], [98.5, 0.04], [100, 0.1925], [101.5, 0.03], [104, 0.015], [106.3, 0.025], [108, 0.012], [111, 0.05],
  [112.5, 0.3], [114, 0.03], [116, 0.01], [118, 0.005], [123, 0.015], [125, 0.051], [127, 0.01], [132, 0.005], [137.5, 0.012], [139, 0.003],
  [145, 0.003], [150, 0.02], [152, 0.003], [157, 0.002], [162.5, 0.01], [164, 0.002], [175, 0.002], [187.5, 0.004], [200, 0.002],
  [212.5, 0.002], [250, 0.001], [500, 0.0005],
];
const specImf5 = [
  [0, 0.0003], [25, 0.0012], [26.5, 0.0003], [50, 0.0003], [62.5, 0.0005], [75, 0.0008], [87.5, 0.0006], [100, 0.0004], [112.5, 0.0005],
  [125, 0.0006], [137.5, 0.0005], [150, 0.0018], [152, 0.0004], [162.5, 0.0012], [175, 0.0013], [178, 0.0006], [187.5, 0.0018], [190, 0.0006],
  [200, 0.0018], [202, 0.0006], [206, 0.0005], [212.5, 0.0027], [214, 0.0006], [218, 0.0006], [225, 0.0048], [227, 0.0008], [230, 0.0008],
  [237.5, 0.0034], [239.5, 0.001], [244, 0.001], [250, 0.0048], [252, 0.001], [256, 0.001], [262.5, 0.008], [264.5, 0.0012], [268, 0.0015],
  [272, 0.003], [275, 0.016], [277, 0.002], [281, 0.0025], [285, 0.006], [287.5, 0.0257], [289.5, 0.005], [292, 0.004], [293.8, 0.009],
  [296, 0.005], [298.5, 0.03], [300, 0.0625], [301.5, 0.012], [304, 0.006], [306.3, 0.0095], [308, 0.006], [310, 0.005], [312.5, 0.0275],
  [314, 0.004], [316, 0.002], [318.8, 0.006], [321, 0.002], [323, 0.003], [325, 0.0213], [327, 0.002], [330, 0.002], [333, 0.003],
  [337.5, 0.018], [339.5, 0.002], [343, 0.0015], [350, 0.0048], [352, 0.001], [357, 0.001], [362.5, 0.006], [364, 0.0008], [370, 0.0008],
  [375, 0.0082], [377, 0.0006], [387.5, 0.002], [390, 0.0004], [400, 0.0008], [412.5, 0.0005], [425, 0.001], [437.5, 0.0008], [450, 0.0005],
  [462.5, 0.0005], [475, 0.0006], [500, 0.0003],
];
const specImf6 = [
  [0, 0.0005], [100, 0.0005], [200, 0.0008], [250, 0.001], [300, 0.0015], [325, 0.002], [337.5, 0.004], [339, 0.001], [350, 0.002],
  [360, 0.003], [362.5, 0.011], [364, 0.003], [372, 0.003], [375, 0.029], [377, 0.004], [380, 0.003], [384, 0.005], [387.5, 0.016],
  [389, 0.005], [395, 0.005], [398, 0.01], [400, 0.036], [402, 0.01], [404, 0.008], [406.3, 0.025], [408, 0.02], [410, 0.04], [411.5, 0.12],
  [412.5, 0.24], [413.5, 0.05], [416, 0.025], [418.8, 0.057], [420.5, 0.02], [423, 0.015], [425, 0.13], [427, 0.015], [429, 0.012],
  [431.3, 0.025], [433, 0.01], [436, 0.01], [437.5, 0.046], [439, 0.006], [445, 0.004], [450, 0.01], [452, 0.004], [458, 0.003],
  [462.5, 0.007], [465, 0.003], [475, 0.004], [480, 0.003], [490, 0.004], [500, 0.003],
];
const specImf7 = [
  [0, 0.0005], [200, 0.001], [300, 0.002], [350, 0.003], [362.5, 0.004], [375, 0.01], [377, 0.003], [390, 0.004], [400, 0.005], [410, 0.006],
  [420, 0.008], [425, 0.037], [427, 0.01], [431.3, 0.02], [433, 0.012], [435, 0.05], [437.5, 0.36], [439, 0.12], [440.5, 0.0], [442, 0.18],
  [444, 0.39], [446, 0.08], [447.5, 0.03], [449, 0.2], [450, 0.476], [451.5, 0.15], [453, 0.05], [456, 0.03], [459, 0.02], [462.5, 0.067],
  [465, 0.02], [468.8, 0.02], [472, 0.01], [480, 0.008], [490, 0.006], [500, 0.005],
];
const specResidual = [
  [0, 0.01], [3, 0.012], [6.3, 0.017], [8, 0.013], [10, 0.013], [12.5, 0.02], [14, 0.014], [18, 0.014], [21, 0.02], [23, 0.04], [24.3, 0.1],
  [25, 0.21], [26, 0.1], [27.5, 0.03], [30, 0.008], [33, 0.002], [36, 0.003], [37.5, 0.006], [39, 0.001], [45, 0.002], [50, 0.012],
  [51.5, 0.003], [56, 0.004], [60, 0.008], [62.5, 0.04], [64, 0.008], [68, 0.01], [72, 0.02], [75, 0.092], [77, 0.02], [80, 0.012],
  [84, 0.015], [87.5, 0.055], [89.5, 0.015], [93, 0.01], [100, 0.014], [102, 0.006], [108, 0.005], [112.5, 0.042], [114, 0.005],
  [120, 0.004], [125, 0.042], [127, 0.003], [132, 0.002], [135, 0.008], [137.5, 0.021], [139, 0.002], [145, 0.003], [148.5, 0.02],
  [150, 0.075], [151.5, 0.006], [156, 0.01], [158, 0.004], [162.5, 0.05], [164, 0.005], [170, 0.006], [175, 0.033], [176.5, 0.01],
  [178, 0.025], [180, 0.006], [185, 0.007], [187.5, 0.04], [189, 0.006], [195, 0.008], [200, 0.037], [202, 0.005], [206, 0.013],
  [208, 0.005], [212.5, 0.038], [214, 0.005], [218.8, 0.012], [221, 0.008], [225, 0.056], [227, 0.008], [232, 0.006], [237.5, 0.028],
  [239, 0.005], [245, 0.004], [250, 0.026], [252, 0.003], [258, 0.002], [262.5, 0.024], [264, 0.002], [270, 0.003], [275, 0.024],
  [277, 0.002], [282, 0.002], [287.5, 0.01], [289, 0.001], [300, 0.001], [310, 0.001], [312.5, 0.004], [315, 0.001], [320, 0.002],
  [325, 0.024], [327, 0.003], [332, 0.004], [337.5, 0.047], [339, 0.005], [345, 0.004], [350, 0.024], [352, 0.004], [358, 0.005],
  [362.5, 0.043], [364, 0.005], [368.8, 0.012], [370.5, 0.004], [373.5, 0.01], [375, 0.087], [376.5, 0.006], [380, 0.004], [387.5, 0.026],
  [389, 0.003], [395, 0.002], [400, 0.017], [402, 0.002], [406, 0.004], [410, 0.001], [420, 0.002], [425, 0.027], [427, 0.003],
  [431.3, 0.013], [433, 0.003], [437.5, 0.048], [439, 0.004], [445, 0.004], [450, 0.02], [452, 0.003], [458, 0.004], [462.5, 0.033],
  [464, 0.004], [468.8, 0.017], [470.5, 0.004], [475, 0.031], [477, 0.003], [481.3, 0.013], [483, 0.003], [487.5, 0.034], [489, 0.003],
  [493.8, 0.005], [497, 0.003], [500, 0.033],
];

// ---------------- layout (pixels) ----------------
const LEFT_X = 157;
const LEFT_W = 1043;
const RIGHT_X = 1766;
const RIGHT_W = 1047;
const ROW_H = 199;
const LEFT_TOPS = [21, 242, 460, 681, 899, 1120, 1338, 1558, 1779];
const RIGHT_TOPS = [21, 242, 460, 680, 899, 1119, 1336, 1555, 1774];
const AXIS_COLOR = "#262626";
const FONT = "Liberation Serif";

function envTime(k: number) {
  return Math.min(k * ENV_DT, TIME_MAX);
}

function buildOption() {
  const grid: any[] = [];
  const xAxis: any[] = [];
  const yAxis: any[] = [];
  const series: any[] = [];

  const tickStyle = { color: AXIS_COLOR, width: 3 };
  const labelStyle = { color: AXIS_COLOR, fontFamily: FONT, fontSize: 42, lineHeight: 28 };

  for (let i = 0; i < 9; i++) {
    for (let side = 0; side < 2; side++) {
      const gi = i * 2 + side;
      grid.push({
        left: side ? RIGHT_X : LEFT_X,
        top: side ? RIGHT_TOPS[i] : LEFT_TOPS[i],
        width: side ? RIGHT_W : LEFT_W,
        height: ROW_H,
        show: true,
        borderColor: AXIS_COLOR,
        borderWidth: 3,
        backgroundColor: "transparent",
      });
      const xMax = side ? FREQ_MAX : TIME_MAX;
      const xt = side ? freqTicks : timeTicks;
      const xl = side ? freqLabels : timeLabels;
      for (const pos of ["bottom", "top"]) {
        xAxis.push({
          type: "value",
          gridIndex: gi,
          position: pos,
          min: 0,
          max: xMax,
          axisLine: { show: false, onZero: false },
          splitLine: { show: false },
          axisTick: { show: true, inside: true, length: 12, lineStyle: tickStyle, customValues: xt },
          axisLabel: { show: pos === "bottom" && i === 8, customValues: xl, margin: 18, ...labelStyle },
        });
      }
      const ymin = side ? 0 : leftRanges[i][0];
      const ymax = side ? rightMax[i] : leftRanges[i][1];
      const yt = side ? rightTicks[i] : leftTicks[i];
      // the spectra's "0" sits on the panel floor; lift it a little so it clears the label of the panel below
      const liftZero = side === 1 && i < 8;
      for (const pos of ["left", "right"]) {
        yAxis.push({
          type: "value",
          gridIndex: gi,
          position: pos,
          min: ymin,
          max: ymax,
          axisLine: { show: false, onZero: false },
          splitLine: { show: false },
          axisTick: { show: true, inside: true, length: 12, lineStyle: tickStyle, customValues: yt },
          axisLabel: {
            show: pos === "left",
            customValues: yt,
            margin: 13,
            ...labelStyle,
            ...(liftZero ? { verticalAlignMinLabel: "bottom" } : {}),
          },
        });
      }
    }
  }

  const line = (gi: number, data: any[], color: string, width: number, extra: any = {}) => ({
    type: "line",
    xAxisIndex: gi * 2,
    yAxisIndex: gi * 2,
    data,
    symbol: "none",
    showSymbol: false,
    silent: true,
    animation: false,
    clip: true,
    lineStyle: { color, width },
    itemStyle: { color },
    emphasis: { disabled: true },
    ...extra,
  });
  // band between the envelope and a point just across zero, so the two halves overlap
  const envelope = (gi: number, row: number, vals: number[], color: string, up: boolean) => {
    const span = leftRanges[row][1] - leftRanges[row][0];
    return line(gi, vals.map((v, k) => [envTime(k), v]), color, 2, {
      areaStyle: { color, opacity: 1, origin: up ? -0.015 * span : 0.015 * span },
    });
  };

  const blue = "#0000ff";
  // left column (time domain)
  series.push(line(0, original, "#000000", 5.5));
  series.push(line(2, imf1, blue, 5.5, { smooth: 0.4 }));
  series.push(line(4, imf2, blue, 5.5, { smooth: 0.5 }));
  const imf3 = [...imf3Start, ...imf3Extrema.map((v, k) => [IMF3_T0 + k * IMF3_DT, v]), ...imf3End];
  series.push(line(6, imf3, blue, 5.5, { smooth: 0.5 }));
  series.push(envelope(8, 4, imf4Upper, blue, true));
  series.push(envelope(8, 4, imf4Lower, blue, false));
  series.push(envelope(10, 5, imf5Upper, blue, true));
  series.push(envelope(10, 5, imf5Lower, blue, false));
  series.push(envelope(12, 6, imf6Upper, blue, true));
  series.push(envelope(12, 6, imf6Lower, blue, false));
  series.push(envelope(14, 7, imf7Upper, blue, true));
  series.push(envelope(14, 7, imf7Lower, blue, false));
  const residual = [...residualValues.map((v, k) => [k * RES_DT, v]), ...residualEnd];
  series.push(line(16, residual, "#ff0000", 5.5));

  // right column (spectra)
  const spectra = [specOriginal, specImf1, specImf2, specImf3, specImf4, specImf5, specImf6, specImf7, specResidual];
  spectra.forEach((s, i) => series.push(line(i * 2 + 1, s, rowColors[i], 5)));

  const graphic: any[] = [];
  rowNames.forEach((name, i) => {
    graphic.push({
      type: "text",
      x: 43,
      y: LEFT_TOPS[i] + ROW_H / 2,
      rotation: Math.PI / 2,
      silent: true,
      style: { text: name, fontFamily: FONT, fontSize: 50, fontWeight: "bold", fill: "#111", align: "center", verticalAlign: "middle" },
    });
  });
  graphic.push({
    type: "text",
    x: LEFT_X + LEFT_W / 2,
    y: 2073,
    silent: true,
    style: { text: "Time/s", fontFamily: FONT, fontSize: 50, fontWeight: "bold", fill: "#111", align: "center", verticalAlign: "middle" },
  });
  graphic.push({
    type: "text",
    x: RIGHT_X + RIGHT_W / 2,
    y: 2063,
    silent: true,
    style: { text: "Frequency/Hz", fontFamily: FONT, fontSize: 50, fontWeight: "bold", fill: "#111", align: "center", verticalAlign: "middle" },
  });
  graphic.push({
    type: "text",
    x: 1444,
    y: 2229,
    silent: true,
    style: {
      text: "{n|(}{b|a}{n|)}",
      align: "center",
      verticalAlign: "middle",
      rich: {
        n: { fontFamily: FONT, fontSize: 58, fill: "#000" },
        b: { fontFamily: FONT, fontSize: 58, fontWeight: "bold", fill: "#000" },
      },
    },
  });

  return { animation: false, backgroundColor: "#ffffff", grid, xAxis, yAxis, series, graphic };
}

export default function App() {
  const ref = useRef<HTMLDivElement>(null);
  useEffect(() => {
    if (!ref.current) return;
    const chart = echarts.init(ref.current, null, { renderer: "svg" });
    chart.setOption(buildOption() as any);
    return () => chart.dispose();
  }, []);
  return (
    <div
      ref={ref}
      style={{ position: "absolute", left: 0, top: 0, width: 2860, height: 2274, background: "#ffffff" }}
    />
  );
}
